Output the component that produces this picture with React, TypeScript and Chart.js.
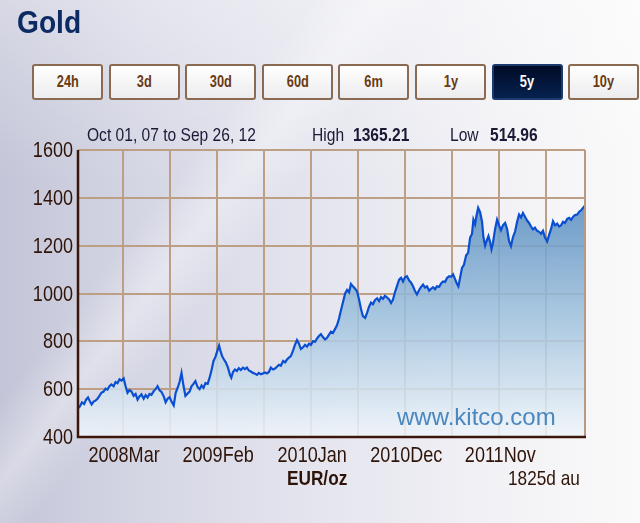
import React, { useEffect, useRef } from "react";
import { Chart, registerables } from "chart.js";
Chart.register(...registerables);

// Days since Oct 01, 2007
const days = [
  0, 7, 14, 22, 29, 36, 43, 49, 56, 63,
  70, 77, 84, 92, 99, 106, 113, 120, 128, 135,
  142, 149, 156, 164, 171, 178, 185, 192, 200, 207,
  214, 221, 228, 236, 243, 250, 257, 264, 272, 279,
  286, 293, 300, 308, 315, 322, 329, 336, 344, 351,
  358, 365, 372, 379, 386, 394, 401, 408, 415, 422,
  430, 437, 444, 451, 458, 466, 473, 480, 487, 494,
  502, 507, 512, 518, 524, 531, 539, 546, 551, 557,
  564, 571, 578, 585, 593, 600, 607, 614, 621, 629,
  636, 643, 650, 657, 665, 672, 679, 686, 693, 701,
  708, 715, 722, 729, 737, 744, 751, 758, 765, 773,
  780, 787, 794, 801, 809, 816, 823, 830, 837, 844,
  852, 859, 866, 873, 880, 888, 895, 902, 909, 916,
  924, 931, 938, 945, 952, 960, 967, 974, 981, 988,
  996, 1003, 1010, 1017, 1024, 1032, 1039, 1046, 1053, 1060,
  1067, 1075, 1082, 1089, 1096, 1103, 1110, 1118, 1125, 1132,
  1139, 1146, 1154, 1161, 1168, 1175, 1182, 1190, 1197, 1204,
  1211, 1218, 1226, 1233, 1240, 1247, 1254, 1262, 1269, 1276,
  1283, 1290, 1298, 1305, 1312, 1319, 1326, 1334, 1341, 1348,
  1355, 1362, 1367, 1373, 1380, 1387, 1395, 1402, 1409, 1416,
  1421, 1427, 1432, 1438, 1445, 1452, 1457, 1463, 1470, 1475,
  1481, 1486, 1491, 1499, 1506, 1513, 1520, 1527, 1535, 1542,
  1549, 1556, 1563, 1571, 1578, 1585, 1592, 1599, 1607, 1614,
  1621, 1628, 1635, 1642, 1650, 1657, 1664, 1671, 1678, 1686,
  1693, 1700, 1707, 1714, 1722, 1729, 1736, 1743, 1750, 1758,
  1765, 1772, 1779, 1786, 1794, 1801, 1808, 1815, 1822,
];

// Gold price, EUR/oz
const prices = [
  520, 528, 545, 538, 556, 565, 548, 536, 548, 552,
  560, 572, 585, 590, 602, 598, 612, 620, 612, 630,
  625, 641, 636, 645, 612, 585, 596, 590, 572, 580,
  556, 570, 578, 560, 575, 565, 580, 576, 592, 600,
  612, 595, 588, 570, 545, 560, 566, 548, 532, 585,
  605, 630, 668, 615, 572, 582, 590, 612, 622, 634,
  608, 600, 615, 605, 625, 622, 648, 680, 718, 735,
  765, 782, 760, 738, 725, 712, 690, 660, 648, 672,
  682, 676, 688, 680, 690, 684, 690, 678, 674, 668,
  665, 660, 668, 662, 666, 670, 666, 672, 690, 682,
  686, 694, 702, 698, 718, 712, 724, 732, 738, 762,
  786, 805, 790, 768, 775, 785, 778, 790, 785, 800,
  798, 812, 822, 830, 818, 808, 815, 828, 840, 835,
  852, 868, 895, 930, 962, 1000, 1015, 1005, 1040, 1030,
  1020, 1008, 975, 935, 905, 898, 920, 945, 962, 955,
  972, 980, 968, 985, 978, 990, 984, 975, 960, 975,
  1005, 1030, 1058, 1066, 1050, 1068, 1072, 1055, 1045, 1030,
  1010, 996, 1015, 1028, 1037, 1025, 1030, 1012, 1020, 1026,
  1018, 1030, 1028, 1042, 1050, 1048, 1065, 1072, 1070, 1080,
  1060, 1040, 1030, 1065, 1107, 1120, 1160, 1170, 1233, 1250,
  1309, 1290, 1325, 1358, 1340, 1300, 1235, 1200, 1225, 1240,
  1215, 1185, 1210, 1270, 1309, 1285, 1265, 1285, 1295, 1270,
  1220, 1198, 1235, 1260, 1300, 1330, 1318, 1337, 1320, 1305,
  1295, 1280, 1268, 1275, 1262, 1258, 1250, 1262, 1235, 1218,
  1245, 1270, 1302, 1285, 1292, 1280, 1285, 1300, 1295, 1312,
  1316, 1308, 1320, 1328, 1330, 1342, 1348, 1358, 1368,
];

const gridDays = [162, 331, 500, 669, 838, 1007, 1176, 1345, 1514, 1683];
const gridLabels = ["2008Mar", "", "2009Feb", "", "2010Jan", "", "2010Dec", "", "2011Nov", ""];
const yTicks = [400, 600, 800, 1000, 1200, 1400, 1600];
const xMax = 1822;

const buttons = ["24h", "3d", "30d", "60d", "6m", "1y", "5y", "10y"];
const activeButton = "5y";

const title = "Gold";
const rangeText = "Oct 01, 07 to Sep 26, 12";
const highLabel = "High";
const highValue = "1365.21";
const lowLabel = "Low";
const lowValue = "514.96";
const unitText = "EUR/oz";
const spanText = "1825d au";
const watermark = "www.kitco.com";

const SANS = '"Liberation Sans", Arial, sans-serif';
const SX = 0.82;

function narrowText(ctx: any, text: string, x: number, y: number, font: string, color: string, align: string, baseline: string, sx = SX) {
  ctx.save();
  ctx.translate(x, y);
  ctx.scale(sx, 1);
  ctx.font = font;
  ctx.fillStyle = color;
  ctx.textAlign = align;
  ctx.textBaseline = baseline;
  ctx.fillText(text, 0, 0);
  ctx.restore();
}

const overlayPlugin = {
  id: "overlay",
  afterDatasetsDraw(chart: any) {
    const { ctx, chartArea: a, scales } = chart;
    ctx.save();
    // watermark
    ctx.font = `24px ${SANS}`;
    ctx.fillStyle = "#4a87be";
    ctx.textBaseline = "alphabetic";
    ctx.textAlign = "left";
    ctx.fillText(watermark, 397, 425);
    // borders
    ctx.strokeStyle = "#b89a84";
    ctx.lineWidth = 2;
    ctx.beginPath();
    ctx.moveTo(a.right, a.top);
    ctx.lineTo(a.right, a.bottom);
    ctx.stroke();
    ctx.strokeStyle = "#3a170a";
    ctx.lineWidth = 2.5;
    ctx.beginPath();
    ctx.moveTo(a.left, a.top);
    ctx.lineTo(a.left, a.bottom);
    ctx.lineTo(a.right + 1, a.bottom);
    ctx.stroke();
    ctx.restore();

    const tickColor = "#2e1408";
    // y tick labels
    yTicks.forEach((v) => {
      narrowText(ctx, String(v), 73, scales.y.getPixelForValue(v) + 1, `22px ${SANS}`, tickColor, "right", "middle");
    });
    // x tick labels
    gridDays.forEach((d, i) => {
      if (!gridLabels[i]) return;
      narrowText(ctx, gridLabels[i], scales.x.getPixelForValue(d) + 1, 462, `22px ${SANS}`, tickColor, "center", "alphabetic");
    });
    // header
    const hc = "#1b1a36";
    narrowText(ctx, rangeText, 87, 141, `19px ${SANS}`, hc, "left", "alphabetic");
    narrowText(ctx, highLabel, 312, 141, `19px ${SANS}`, hc, "left", "alphabetic");
    narrowText(ctx, lowLabel, 450, 141, `19px ${SANS}`, hc, "left", "alphabetic");
    narrowText(ctx, highValue, 353, 141, `bold 19px ${SANS}`, hc, "left", "alphabetic");
    narrowText(ctx, lowValue, 490, 141, `bold 19px ${SANS}`, hc, "left", "alphabetic");
    // footer
    narrowText(ctx, unitText, 287, 485, `bold 21px ${SANS}`, tickColor, "left", "alphabetic");
    narrowText(ctx, spanText, 508, 485, `21px ${SANS}`, tickColor, "left", "alphabetic");
    // title
    narrowText(ctx, title, 17, 33, `bold 32px ${SANS}`, "#0c2b62", "left", "alphabetic", 0.88);
  },
};

function App() {
  const ref = useRef<HTMLCanvasElement>(null);
  useEffect(() => {
    if (!ref.current) return;
    const data = days.map((d, i) => ({ x: d, y: prices[i] }));
    const chart = new Chart(ref.current, {
      type: "line",
      data: {
        datasets: [
          {
            data,
            borderColor: "#0a4fd2",
            borderWidth: 2.2,
            pointRadius: 0,
            tension: 0,
            fill: "start",
            backgroundColor: (c: any) => {
              const ch = c.chart;
              const area = ch.chartArea;
              if (!area) return "rgba(120,160,200,0.7)";
              const ys = ch.scales.y;
              const g = ch.ctx.createLinearGradient(0, ys.getPixelForValue(1400), 0, ys.getPixelForValue(400));
              g.addColorStop(0, "rgba(90,142,192,0.9)");
              g.addColorStop(0.5, "rgba(158,193,221,0.86)");
              g.addColorStop(1, "rgba(240,245,250,0.85)");
              return g;
            },
          },
        ],
      },
      options: {
        animation: false,
        responsive: false,
        devicePixelRatio: 1,
        layout: { padding: { top: 150, right: 55, bottom: 0, left: 0 } },
        plugins: { legend: { display: false }, tooltip: { enabled: false } },
        scales: {
          x: {
            type: "linear",
            min: 0,
            max: xMax,
            afterBuildTicks: (s: any) => {
              s.ticks = gridDays.map((v) => ({ value: v }));
            },
            afterFit: (s: any) => {
              s.height = 86;
            },
            grid: { color: "#bd9f86", lineWidth: 2, drawTicks: false },
            border: { display: false },
            ticks: { display: false },
          },
          y: {
            min: yTicks[0],
            max: yTicks[yTicks.length - 1],
            afterBuildTicks: (s: any) => {
              s.ticks = yTicks.map((v) => ({ value: v }));
            },
            afterFit: (s: any) => {
              s.width = 78;
            },
            grid: { color: "#bd9f86", lineWidth: 2, drawTicks: false },
            border: { display: false },
            ticks: { display: false },
          },
        },
      },
      plugins: [overlayPlugin],
    } as any);
    return () => chart.destroy();
  }, []);

  const bg =
    "linear-gradient(128deg, rgba(255,255,255,0) 30%, rgba(255,255,255,0.35) 36%, rgba(255,255,255,0) 42%)," +
    "linear-gradient(to bottom, rgba(255,255,255,0.35) 0%, rgba(255,255,255,0) 35%)," +
    "linear-gradient(to right, #c3c4d7 0%, #d5d6e4 22%, #e4e5ee 50%, #f2f2f6 78%, #fafafa 100%)";

  return (
    <div style={{ position: "fixed", left: 0, top: 0, width: 640, height: 523, background: bg, overflow: "hidden" }}>
      {buttons.map((b, i) => {
        const active = b === activeButton;
        return (
          <div
            key={b}
            style={{
              position: "absolute",
              left: 32 + i * 76.6,
              top: 64,
              width: 71,
              height: 36,
              boxSizing: "border-box",
              border: active ? "2px solid #1b3a6e" : "2px solid #8b6a52",
              borderRadius: 3,
              background: active ? "linear-gradient(#000a26, #06224f)" : "linear-gradient(#ffffff, #ececee)",
              color: active ? "#ffffff" : "#6a3a12",
              fontFamily: SANS,
              fontWeight: "bold",
              fontSize: 16,
              lineHeight: "32px",
              textAlign: "center",
            }}
          >
            <span style={{ display: "inline-block", transform: "scaleX(0.8)" }}>{b}</span>
          </div>
        );
      })}
      <canvas ref={ref} width={640} height={523} style={{ position: "absolute", left: 0, top: 0, width: 640, height: 523 }} />
    </div>
  );
}

export default App;
